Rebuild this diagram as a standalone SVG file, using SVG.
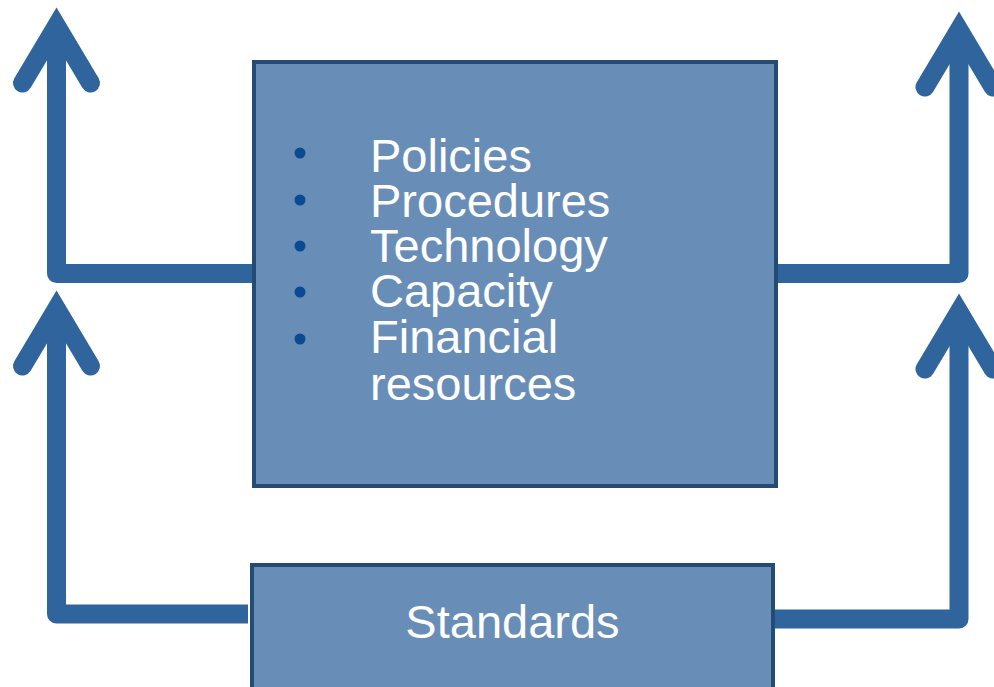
<svg xmlns="http://www.w3.org/2000/svg" width="994" height="687" viewBox="0 0 994 687">
<style>
.conn{fill:none;stroke:#2f649d;stroke-width:19;stroke-linejoin:round;stroke-linecap:butt}
.head{fill:none;stroke:#2f649d;stroke-width:19;stroke-linejoin:miter;stroke-miterlimit:10;stroke-linecap:round}
.box{fill:#688db7;stroke:#244b74;stroke-width:4}
.t{font-family:"Liberation Sans",Arial,sans-serif;font-size:47px;fill:#ffffff}
.b{fill:#0a4a93}
</style>
<rect width="994" height="687" fill="#ffffff"/>
<g id="connectors">
<path class="conn" d="M252,273.5 H56.5 V34"/>
<path class="head" d="M22.5,83 L56.5,26 L90.5,83"/>
<path class="conn" d="M248,614 H56.5 V316"/>
<path class="head" d="M22.5,366 L56.5,309 L90.5,366"/>
<path class="conn" d="M778,273.5 H959 V38"/>
<path class="head" d="M925,87 L959,30 L993,87"/>
<path class="conn" d="M775,619 H959 V319"/>
<path class="head" d="M925,369 L959,312 L993,369"/>
</g>
<g id="main">
<rect class="box" x="254" y="62" width="522" height="424"/>
<circle class="b" cx="300" cy="153" r="5.5"/>
<circle class="b" cx="300" cy="200" r="5.5"/>
<circle class="b" cx="300" cy="246" r="5.5"/>
<circle class="b" cx="300" cy="292" r="5.5"/>
<circle class="b" cx="300" cy="339" r="5.5"/>
<text class="t" x="370" y="172">Policies</text>
<text class="t" x="370" y="217">Procedures</text>
<text class="t" x="370" y="262">Technology</text>
<text class="t" x="370" y="307">Capacity</text>
<text class="t" x="370" y="353">Financial</text>
<text class="t" x="370" y="400">resources</text>
</g>
<g id="standards">
<rect class="box" x="252" y="565" width="521" height="130"/>
<text class="t" x="512.5" y="638" text-anchor="middle">Standards</text>
</g>
</svg>
